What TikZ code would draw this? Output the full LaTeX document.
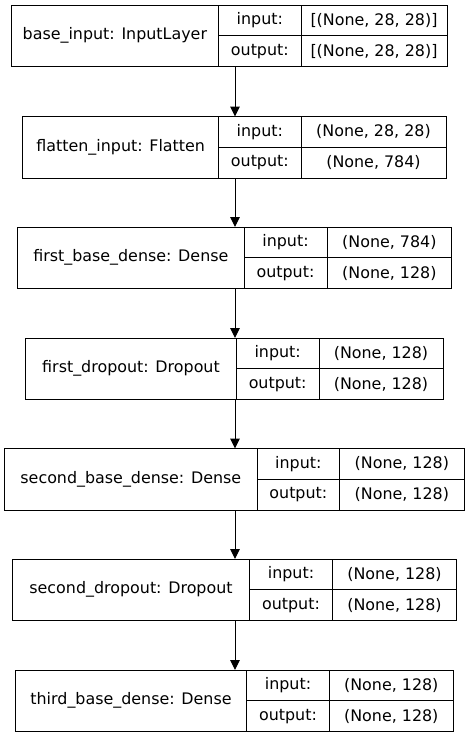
\documentclass[tikz,border=0pt]{standalone}
\usepackage{fontspec}
\setmainfont{DejaVu Sans}
\usetikzlibrary{arrows.meta}
\tikzset{
  cell/.style={draw, line width=0.9pt, inner sep=0pt, outer sep=0pt, anchor=north west,
    font=\fontsize{15.9}{19}\selectfont},
  flow/.style={line width=1pt, -{Triangle[length=10pt,width=9.5pt]}}
}
% one layer row: name, top, left, split1, split2, right, title, input shape, output shape
\newcommand\kerasrow[9]{%
  \node[cell, minimum width={(#4-#3)*1pt}, minimum height=61.5pt] (#1) at (#3,#2) {#7};
  \node[cell, minimum width={(#5-#4)*1pt}, minimum height=30.75pt] (#1-ik) at (#4,#2) {input:};
  \node[cell, minimum width={(#5-#4)*1pt}, minimum height=30.75pt] (#1-ok) at (#4,#2+30.75) {output:};
  \node[cell, minimum width={(#6-#5)*1pt}, minimum height=30.75pt] (#1-iv) at (#5,#2) {#8};
  \node[cell, minimum width={(#6-#5)*1pt}, minimum height=30.75pt] (#1-ov) at (#5,#2+30.75) {#9};
}

\begin{document}
\begin{tikzpicture}[x=1pt, y=-1pt]
  \useasboundingbox (0,0) rectangle (469,737);
  \coordinate (ax) at (235,0);
  % input
  \kerasrow{base}{5}{11}{218.7}{301}{447}{base\_input: InputLayer}{[(None, 28, 28)]}{[(None, 28, 28)]}
  % flatten
  \kerasrow{flat}{116.5}{22.7}{218.7}{301}{446}{flatten\_input: Flatten}{(None, 28, 28)}{(None, 784)}
  % dense + dropout blocks
  \kerasrow{dense1}{227}{17.7}{244}{327}{451.7}{first\_base\_dense: Dense}{(None, 784)}{(None, 128)}
  \kerasrow{drop1}{338}{25.7}{236.3}{319}{443}{first\_dropout: Dropout}{(None, 128)}{(None, 128)}
  \kerasrow{dense2}{448.5}{4.7}{257}{339.7}{464}{second\_base\_dense: Dense}{(None, 128)}{(None, 128)}
  \kerasrow{drop2}{559}{12.3}{249.7}{332.3}{456.7}{second\_dropout: Dropout}{(None, 128)}{(None, 128)}
  \kerasrow{dense3}{670}{15.3}{246.7}{329.3}{453.3}{third\_base\_dense: Dense}{(None, 128)}{(None, 128)}
  % arrows
  \foreach \a/\b in {base/flat, flat/dense1, dense1/drop1, drop1/dense2, dense2/drop2, drop2/dense3}
    \draw[flow] (\a.south -| ax) -- (\b.north -| ax);
\end{tikzpicture}
\end{document}
